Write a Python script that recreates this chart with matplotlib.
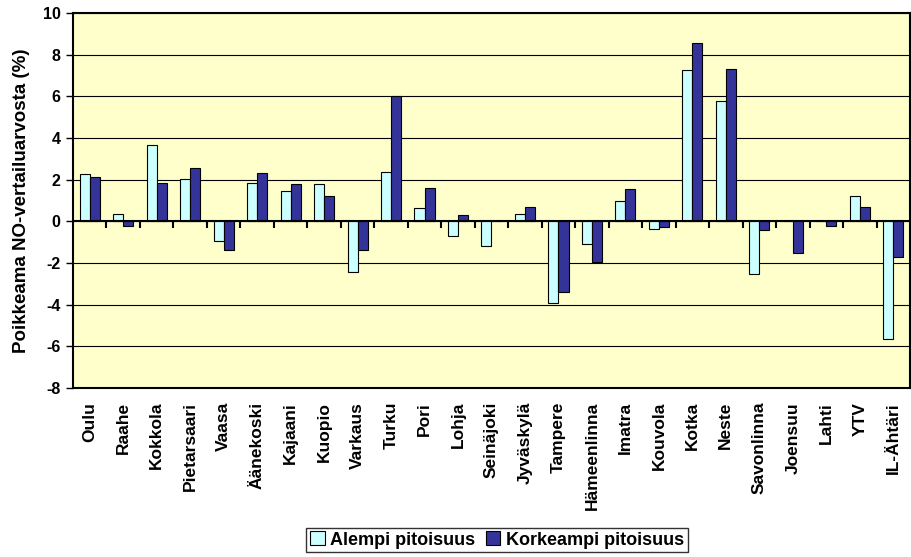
import matplotlib.pyplot as plt
import numpy as np

plt.rcParams['font.family'] = ['Liberation Sans', 'DejaVu Sans']
plt.rcParams['font.weight'] = 'bold'
plt.rcParams['axes.unicode_minus'] = False

# Mittausasemat
asemat = ['Oulu', 'Raahe', 'Kokkola', 'Pietarsaari', 'Vaasa', 'Äänekoski',
          'Kajaani', 'Kuopio', 'Varkaus', 'Turku', 'Pori', 'Lohja',
          'Seinäjoki', 'Jyväskylä', 'Tampere', 'Hämeenlinna', 'Imatra',
          'Kouvola', 'Kotka', 'Neste', 'Savonlinna', 'Joensuu', 'Lahti',
          'YTV', 'IL-Ähtäri']

alempi = [2.27, 0.35, 3.65, 2.02, -0.93, 1.82, 1.47, 1.81, -2.45, 2.38,
          0.66, -0.70, -1.18, 0.35, -3.92, -1.10, 0.99, -0.38, 7.26, 5.79,
          -2.54, 0.0, 0.0, 1.22, -5.63]
korkeampi = [2.11, -0.22, 1.86, 2.54, -1.36, 2.30, 1.78, 1.22, -1.39, 6.03,
             1.62, 0.32, 0.03, 0.70, -3.39, -1.97, 1.55, -0.28, 8.58, 7.30,
             -0.40, -1.50, -0.22, 0.69, -1.71]

x = np.arange(len(asemat))
w = 0.3

fig = plt.figure(figsize=(9.12, 5.57), dpi=100)
ax = fig.add_axes([73 / 912, 1 - 388 / 557, (910 - 73) / 912, (388 - 13) / 557])
ax.set_facecolor('#FFFFCC')

ax.bar(x - w / 2, alempi, w, color='#CCFFFF', edgecolor='black', linewidth=0.8,
       label='Alempi pitoisuus', zorder=3)
ax.bar(x + w / 2, korkeampi, w, color='#333399', edgecolor='black', linewidth=0.8,
       label='Korkeampi pitoisuus', zorder=3)

ax.set_xlim(-0.5, len(asemat) - 0.5)
ax.set_ylim(-8, 10)
ax.set_yticks(np.arange(-8, 11, 2))
ax.yaxis.grid(True, color='black', linewidth=0.8, zorder=0)
ax.tick_params(axis='y', direction='out', length=5, width=1, labelsize=11.5, pad=4)

ax.set_xticks(x)
ax.set_xticklabels(asemat, rotation=90, fontsize=12.5, fontweight='bold')
ax.tick_params(axis='x', length=0, pad=10)

for s in ax.spines.values():
    s.set_linewidth(1.5)

# kategoria-akseli nollatasolla
ax.axhline(0, color='black', linewidth=1.5, zorder=4)
sec = ax.secondary_xaxis(0, transform=ax.transData)
sec.set_xticks(np.arange(0.5, len(asemat) - 0.5, 1))
sec.set_xticklabels([])
sec.tick_params(direction='out', length=5, width=1.5)
sec.spines['bottom'].set_visible(False)

ax.set_ylabel('Poikkeama NO-vertailuarvosta (%)', fontsize=13.5,
              fontweight='bold', labelpad=9)

leg = fig.legend(loc='center', bbox_to_anchor=(497 / 912, 1 - 540 / 557), ncol=2,
                 frameon=True, fancybox=False, edgecolor='black',
                 handlelength=0.8, handleheight=0.8, handletextpad=0.3,
                 columnspacing=0.6, borderpad=0.2,
                 prop={'weight': 'bold', 'size': 13})
leg.get_frame().set_linewidth(1.0)

plt.savefig('out.png', dpi=100)
